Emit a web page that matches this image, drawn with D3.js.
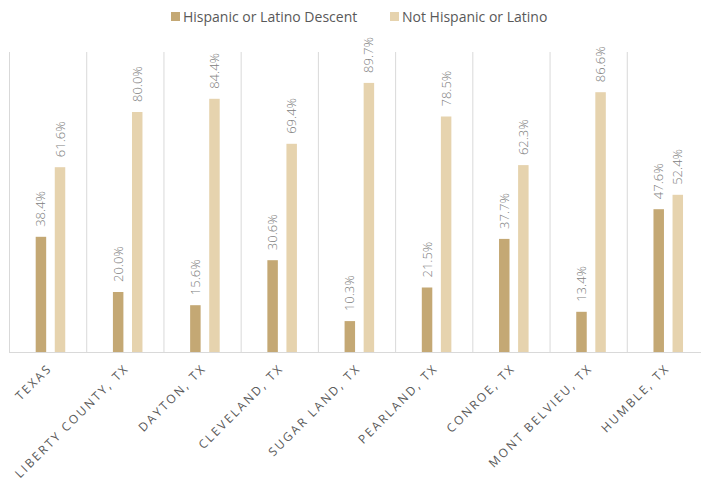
<!DOCTYPE html>
<html><head><meta charset="utf-8">
<script src="https://cdn.jsdelivr.net/npm/d3@7"></script>
<style>body{margin:0;background:#fff;}svg{display:block;}</style>
</head><body><svg id="c" width="701" height="487"></svg>
<script>
const categories = ["TEXAS","LIBERTY COUNTY, TX","DAYTON, TX","CLEVELAND, TX","SUGAR LAND, TX","PEARLAND, TX","CONROE, TX","MONT BELVIEU, TX","HUMBLE, TX"];
const seriesNames = ["Hispanic or Latino Descent","Not Hispanic or Latino"];
const hispanic = [38.4,20.0,15.6,30.6,10.3,21.5,37.7,13.4,47.6];
const notHispanic = [61.6,80.0,84.4,69.4,89.7,78.5,62.3,86.6,52.4];
const colors = ["#C4A874","#E6D3AE"];

const svg = d3.select("#c");
const mLeft = 9, mRight = 704, mTop = 52, mBottom = 352;
const x = d3.scaleBand().domain(categories).range([mLeft, mRight]).paddingInner(0).paddingOuter(0);
const y = d3.scaleLinear().domain([0,100]).range([mBottom, mTop]);
const inner = d3.scaleBand().domain([0,1]).range([0, x.bandwidth()]).paddingInner(0.45).paddingOuter(1.25).align(0.56);

const g = svg.append("g");
categories.forEach((c)=>{
  g.append("line").attr("x1", x(c)+0.5).attr("x2", x(c)+0.5).attr("y1", mTop).attr("y2", mBottom)
   .attr("stroke","#d9d9d9").attr("stroke-width",1);
});
g.append("line").attr("x1", mLeft).attr("x2", mRight).attr("y1", mBottom+0.5).attr("y2", mBottom+0.5).attr("stroke","#d9d9d9");

const data = [hispanic, notHispanic];
data.forEach((vals, s)=>{
  const sg = svg.append("g");
  sg.selectAll("rect").data(vals).join("rect")
    .attr("x",(d,i)=>x(categories[i])+inner(s))
    .attr("width",inner.bandwidth())
    .attr("y",d=>y(d)).attr("height",d=>mBottom-y(d))
    .attr("fill",colors[s]);
  sg.selectAll("text").data(vals).join("text")
    .attr("transform",(d,i)=>`translate(${x(categories[i])+inner(s)+inner.bandwidth()/2+4.5},${y(d)-10}) rotate(-90)`)
    .attr("font-family","'Open Sans', sans-serif").attr("font-size",13).attr("font-weight",300)
    .attr("fill","#808080")
    .text(d=>d.toFixed(1)+"%");
});

svg.append("g").selectAll("text").data(categories).join("text")
  .attr("transform",c=>`translate(${x(c)+x.bandwidth()/2+5},${mBottom+17}) rotate(-45)`)
  .attr("text-anchor","end")
  .attr("font-family","'Open Sans', sans-serif").attr("font-size",12)
  .attr("letter-spacing","2.2px")
  .attr("fill","#595959")
  .text(c=>c);

const legendX = [171, 390];
seriesNames.forEach((n,i)=>{
  svg.append("rect").attr("x",legendX[i]).attr("y",12).attr("width",9).attr("height",9).attr("fill",colors[i]);
  svg.append("text").attr("x",legendX[i]+12).attr("y",22)
    .attr("font-family","'Open Sans', sans-serif").attr("font-size",14)
    .attr("fill","#595959").text(n);
});
</script></body></html>
